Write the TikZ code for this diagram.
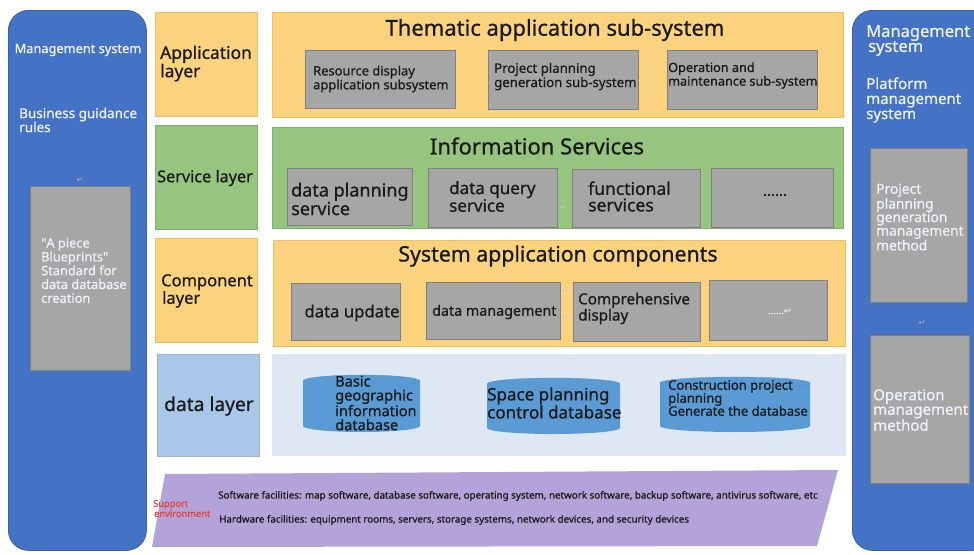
\documentclass[tikz,border=0pt]{standalone}
\usepackage{fontspec}
\setmainfont{Noto Sans}[FakeBold=0.8]
\newfontfamily\symfont{DejaVu Sans}
\newcommand{\myfs}[2]{\fontsize{#1}{#2}\selectfont}
\definecolor{panelblue}{HTML}{4472C4}
\definecolor{orfill}{HTML}{FBD27E}
\definecolor{ordraw}{HTML}{F0BE55}
\definecolor{grfill}{HTML}{95C57F}
\definecolor{grdraw}{HTML}{7DB365}
\definecolor{boxgray}{HTML}{A6A6A6}
\definecolor{boxedge}{HTML}{808080}
\definecolor{lblblue}{HTML}{A9C8E9}
\definecolor{datapanel}{HTML}{DDE8F4}
\definecolor{cylfill}{HTML}{5B9BD5}
\definecolor{purp}{HTML}{B4A3D9}
\definecolor{redtxt}{HTML}{E8403A}
\definecolor{darktxt}{HTML}{1A1A1A}
\definecolor{lighttxt}{HTML}{EEF2FA}
\tikzset{
  bx/.style={anchor=north west, inner sep=0pt, line width=0.8pt},
  bluepanel/.style={bx, fill=panelblue, draw=panelblue!85!black, rounded corners=20pt},
  orbox/.style={bx, fill=orfill, draw=ordraw},
  grbox/.style={bx, fill=grfill, draw=grdraw},
  lbbox/.style={bx, fill=lblblue, draw=lblblue!90!black, line width=0.4pt},
  dpbox/.style={bx, fill=datapanel, draw=none},
  gbox/.style={bx, fill=boxgray, draw=boxedge},
  txt/.style={anchor=west, inner sep=0pt, align=left, text=darktxt},
  wtxt/.style={txt, text=lighttxt},
  ttl/.style={anchor=center, inner sep=0pt, text=darktxt, font=\myfs{22}{22}},
  retmark/.style={inner sep=0pt, font=\symfont\myfs{8}{8}, text=#1},
  retmark/.default={gray!60}
}
\newcommand{\dbcyl}[4]{%
  \pgfmathsetmacro\cx{(#1+#3)/2}\pgfmathsetmacro\rx{(#3-#1)/2}%
  \fill[cylfill] (#1,-#2-6) -- (#1,-#4+6) arc[start angle=180,end angle=360,x radius=\rx,y radius=6]
     -- (#3,-#2-6) arc[start angle=0,end angle=180,x radius=\rx,y radius=6] -- cycle;
  \draw[cylfill!93!black, line width=0.3pt] (\cx,-#2-6) ellipse[x radius=\rx, y radius=6];
}
\begin{document}
\begin{tikzpicture}[x=1pt,y=1pt]
\clip (0,0) rectangle (974,-554);
\useasboundingbox (0,0) rectangle (974,-554);
\fill[white] (0,0) rectangle (974,-554);

% side panels
\node[bluepanel, minimum width=138pt, minimum height=540pt] (lpanel) at (8,-10) {};
\node[bluepanel, minimum width=140pt, minimum height=540pt] (rpanel) at (852,-10) {};
\node[anchor=center, inner sep=0pt, text=lighttxt, font=\myfs{12.8}{13}] (lmgmt) at (78,-50) {Management system};
\node[wtxt, font=\myfs{13.5}{14}] (lbiz) at (19,-120) {Business guidance\\rules};
\node[retmark] (lret) at (80,-180) {↵};
\node[gbox, minimum width=100pt, minimum height=184pt] (lgray) at (30,-186) {};
\node[wtxt, font=\myfs{12.8}{13.8}] (lgraytxt) at (41,-270.5) {\textquotedbl A piece\\Blueprints\textquotedbl\\Standard for\\data database\\creation};

\node[wtxt, font=\myfs{16.5}{15}] (rmgmt) at (866,-40.5) {Management\\\hspace{2pt}system};
\node[wtxt, font=\myfs{15}{15}] (rplat) at (866,-100) {Platform\\management\\system};
\node[gbox, minimum width=97pt, minimum height=154pt] (rgray1) at (870,-148) {};
\node[wtxt, font=\myfs{13.8}{13.5}] (rgray1txt) at (876,-217) {Project\\planning\\generation\\management\\method};
\node[retmark] (rret) at (922,-323) {↵};
\node[gbox, minimum width=99pt, minimum height=148pt] (rgray2) at (870,-335) {};
\node[wtxt, font=\myfs{15}{14.5}] (rgray2txt) at (873,-410) {Operation\\management\\method};

% layer labels
\node[orbox, minimum width=102pt, minimum height=104pt] (lapp) at (155,-12) {};
\node[txt, font=\myfs{17.4}{16.5}] (lapptxt) at (160,-63.5) {Application\\layer};
\node[grbox, minimum width=102pt, minimum height=104pt] (lsrv) at (155,-125) {};
\node[txt, font=\myfs{16.2}{16}] (lsrvtxt) at (157,-178) {Service layer};
\node[orbox, minimum width=102pt, minimum height=104pt] (lcmp) at (155,-238) {};
\node[txt, font=\myfs{16.5}{16}] (lcmptxt) at (161,-291) {Component\\\hspace{1pt}layer};
\node[lbbox, minimum width=102pt, minimum height=102pt] (ldat) at (157,-354) {};
\node[txt, font=\myfs{19.2}{19}] (ldattxt) at (164,-406) {data layer};

% application layer panel
\node[orbox, minimum width=571pt, minimum height=105pt] (papp) at (272,-12) {};
\node[ttl] (tapp) at (555,-30) {Thematic application sub-system};
\node[gbox, minimum width=150pt, minimum height=58pt] (a1) at (305,-50) {};
\node[txt, font=\myfs{12.9}{12.5}] (a1t) at (313,-79) {Resource display\\application subsystem};
\node[gbox, minimum width=150pt, minimum height=59pt] (a2) at (488,-50) {};
\node[txt, font=\myfs{13.2}{12.5}] (a2t) at (494,-76.5) {Project planning\\generation sub-system};
\node[gbox, minimum width=150pt, minimum height=59pt] (a3) at (667,-50) {};
\node[txt, font=\myfs{12.7}{12}] (a3t) at (668,-75.5) {Operation and\\maintenance sub-system};

% service layer panel
\node[grbox, minimum width=571pt, minimum height=101pt] (psrv) at (272,-127) {};
\node[ttl] (tsrv) at (537,-146) {Information Services};
\node[gbox, minimum width=125pt, minimum height=57pt] (s1) at (287,-168) {};
\node[txt, font=\myfs{18}{17.5}] (s1t) at (291,-199) {data planning\\service};
\node[gbox, minimum width=129pt, minimum height=59pt] (s2) at (428,-168) {};
\node[txt, font=\myfs{17}{16.5}] (s2t) at (449,-196.5) {data query\\service};
\node[gbox, minimum width=128pt, minimum height=58pt] (s3) at (572,-169) {};
\node[txt, font=\myfs{17.5}{16.5}] (s3t) at (588,-196.5) {functional\\services};
\node[gbox, minimum width=122pt, minimum height=59pt] (s4) at (711,-168) {};
\node[anchor=center, inner sep=0pt, text=darktxt, font=\myfs{15}{15}] (s4t) at (775,-195) {......};
\node[retmark=gray!45] (sret) at (563,-208) {↵};

% component layer panel
\node[orbox, minimum width=572pt, minimum height=106pt] (pcmp) at (273,-240) {};
\node[ttl, font=\myfs{21.3}{21}] (tcmp) at (558,-256) {System application components};
\node[gbox, minimum width=109pt, minimum height=57pt] (c1) at (291,-283) {};
\node[anchor=center, inner sep=0pt, text=darktxt, font=\myfs{16.7}{16}] (c1t) at (352,-313) {data update};
\node[gbox, minimum width=134pt, minimum height=57pt] (c2) at (426,-282) {};
\node[txt, font=\myfs{14.3}{15}] (c2t) at (432,-312) {data management};
\node[gbox, minimum width=127pt, minimum height=59pt] (c3) at (573,-282) {};
\node[txt, font=\myfs{15.2}{15}] (c3t) at (578,-308.5) {Comprehensive\\display};
\node[gbox, minimum width=118pt, minimum height=60pt] (c4) at (709,-280) {};
\node[anchor=center, inner sep=0pt, text=white!80!boxgray, font=\myfs{10}{10}] (c4t) at (780,-311) {......\symfont↵};
\node[retmark=gray!45] (cret1) at (565,-291) {↵};
\node[retmark=gray!45] (cret2) at (565,-318) {↵};

% data layer panel
\node[dpbox, minimum width=574pt, minimum height=102pt] (pdat) at (272,-354) {};
\dbcyl{303}{375}{420}{432}
\dbcyl{487}{378}{620}{434}
\dbcyl{660}{377}{810}{432}
\node[txt, font=\myfs{14.6}{14}] (d1t) at (335,-403) {Basic\\geographic\\information\\database};
\node[txt, font=\myfs{17}{16}] (d2t) at (487,-403) {Space planning\\control database};
\node[txt, font=\myfs{13}{13}] (d3t) at (668,-398) {Construction project\\planning\\Generate the database};

% support environment
\fill[purp] (165,-474) -- (838,-470) -- (817,-546) -- (152,-547) -- cycle;
\node[txt, text=redtxt, font=\myfs{9.3}{9}] (sup) at (153,-508.5) {Support\\\hspace{1pt}environment};
\node[txt, font=\myfs{9.8}{10}] (soft) at (218,-496) {Software facilities: map software, database software, operating system, network software, backup software, antivirus software, etc};
\node[txt, font=\myfs{9.8}{10}] (hard) at (219,-520) {Hardware facilities: equipment rooms, servers, storage systems, network devices, and security devices};
\end{tikzpicture}
\end{document}
